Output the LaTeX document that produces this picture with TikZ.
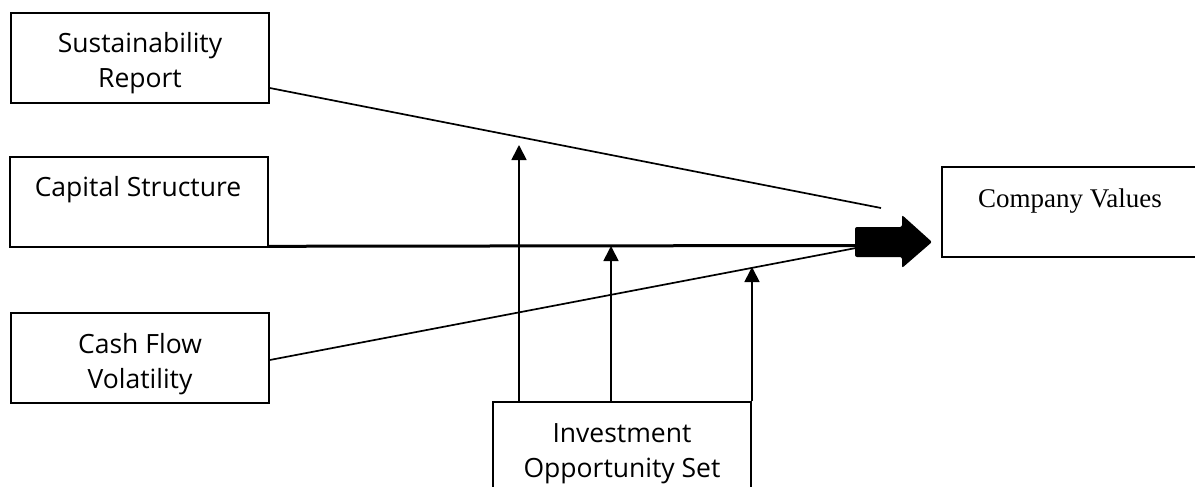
\documentclass[tikz,border=0pt]{standalone}
\usepackage{fontspec}
\setmainfont{Open Sans}
\newfontfamily\cvserif{Liberation Serif}
\usetikzlibrary{arrows.meta}
\begin{document}
\begin{tikzpicture}[x=1pt,y=-1pt,
  box/.style={draw,line width=1.6pt,inner sep=0pt,rectangle},
  lbl/.style={anchor=base,inner sep=0pt,align=center,font=\fontsize{26.5}{35}\selectfont},
  conn/.style={line width=1.7pt},
  modarrow/.style={line width=1.7pt,-{Triangle[width=15pt,length=15pt]}}]
\useasboundingbox (0,0) rectangle (1195,487);
% boxes
\node[box,minimum width=258pt,minimum height=90pt] (sr) at (140,58) {};
\node[box,minimum width=258pt,minimum height=90pt] (cs) at (139,202) {};
\node[box,minimum width=258pt,minimum height=90pt] (cf) at (140,358) {};
\node[box,minimum width=258pt,minimum height=100pt] (ios) at (622,452) {};
\node[box,minimum width=280pt,minimum height=90pt] (cv) at (1082,212) {};
% texts (base anchor = baseline of last line)
\node[lbl] (srt) at (140,88) {Sustainability\\Report};
\node[lbl] (cst) at (138,196) {Capital Structure};
\node[lbl] (cft) at (140,388) {Cash Flow\\Volatility};
\node[lbl] (iost) at (622,477) {Investment\\Opportunity Set};
\node[lbl,font=\cvserif\fontsize{27}{35}\selectfont] (cvt) at (1070,207) {Company Values};
% big arrow
\fill[rounded corners=2pt] (855,227) -- (902,227) -- (902,215) -- (932,242) -- (902,268) -- (902,257) -- (855,257) -- cycle;
\coordinate (atail) at (856,246);
\coordinate (aup) at (881,208);
% connectors
\draw[conn] (sr.east |- 0,88) -- (aup);
\draw[line width=3pt] (cs.south east) ++(0,-1.5) -- (atail |- 0,245.5);
\draw[conn] (cf.east |- 0,360) -- (atail |- 0,248);
% moderating arrows
\coordinate (m1) at (519,145);
\coordinate (m2) at (611,246);
\coordinate (m3) at (752,267);
\draw[modarrow] (ios.north -| m1) -- (m1);
\draw[modarrow] (ios.north -| m2) -- (m2);
\draw[modarrow] (ios.north -| m3) -- (m3);
\end{tikzpicture}
\end{document}
